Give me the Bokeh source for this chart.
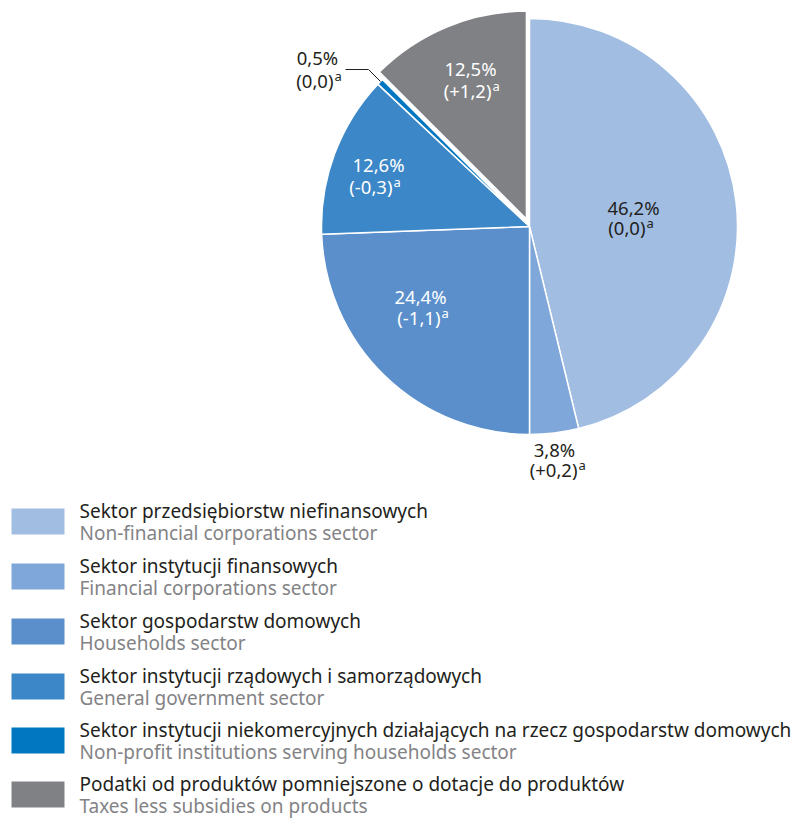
import math
from bokeh.plotting import figure
from bokeh.models import Range1d, ColumnDataSource
from bokeh.core.properties import value
from bokeh.embed import file_html
from bokeh.resources import INLINE

# ---- data ----
shares = [46.2, 3.8, 24.4, 12.6, 0.5, 12.5]
share_text = ["46,2%", "3,8%", "24,4%", "12,6%", "0,5%", "12,5%"]
change_text = ["(0,0)", "(+0,2)", "(-1,1)", "(-0,3)", "(0,0)", "(+1,2)"]
labels_pl = [
    "Sektor przedsiębiorstw niefinansowych",
    "Sektor instytucji finansowych",
    "Sektor gospodarstw domowych",
    "Sektor instytucji rządowych i samorządowych",
    "Sektor instytucji niekomercyjnych działających na rzecz gospodarstw domowych",
    "Podatki od produktów pomniejszone o dotacje do produktów",
]
labels_en = [
    "Non-financial corporations sector",
    "Financial corporations sector",
    "Households sector",
    "General government sector",
    "Non-profit institutions serving households sector",
    "Taxes less subsidies on products",
]
colors = ["#a1bde2", "#7fa7da", "#5a8fcc", "#3c87c7", "#0077c0", "#808184"]
exploded = [0, 0, 0, 0, 0, 1]

# ---- layout (screen px) ----
W, H = 793, 820
FONT = "Noto Sans"
DARK = "#231f20"
GREY_TXT = "#838386"
TXT_SHIFT = 8  # baseline correction


def Y(s):
    return H - s


def TY(s):
    return H - (s - TXT_SHIFT)


p = figure(width=W, height=H, output_backend="svg", toolbar_location=None,
           x_range=Range1d(0, W), y_range=Range1d(0, H),
           min_border=0)
p.axis.visible = False
p.grid.visible = False
p.outline_line_color = None
p.background_fill_color = "white"

cx, cy, R = 529, Y(226), 208
explode_dist = 8

xs, ys, starts, ends = [], [], [], []
cum = 0.0
for v, e in zip(shares, exploded):
    a1 = cum * 3.6
    a2 = (cum + v) * 3.6
    cum += v
    start = math.radians(90 - a2)
    end = math.radians(90 - a1)
    mid = (start + end) / 2
    d = explode_dist * e
    xs.append(cx + d * math.cos(mid))
    ys.append(cy + d * math.sin(mid))
    starts.append(start)
    ends.append(end)

src = ColumnDataSource(dict(x=xs, y=ys, s=starts, e=ends, c=colors))
p.wedge(x="x", y="y", radius=R, start_angle="s", end_angle="e",
        fill_color="c", line_color="white", line_width=1.5, source=src)

# ---- slice labels ----
# (line1 centre x, line1 baseline, line2 right edge of main text, line2 baseline, colour)
lab_pos = [
    (633, 215, 645, 235, DARK),
    (554, 457, 577, 477, DARK),
    (420, 304, 440, 325, "white"),
    (378, 172, 392, 194, "white"),
    (317, 65, 333, 88, DARK),
    (470, 76, 491, 98, "white"),
]
for i, (x1, b1, xr, b2, col) in enumerate(lab_pos):
    p.text(x=[x1], y=[TY(b1)], text=[share_text[i]], text_align="center",
           text_baseline="alphabetic", text_font=value(FONT),
           text_font_size="18.5px", text_color=col)
    p.text(x=[xr], y=[TY(b2)], text=[change_text[i]], text_align="right",
           text_baseline="alphabetic", text_font=value(FONT),
           text_font_size="18.5px", text_color=col)
    p.text(x=[xr + 1], y=[TY(b2 - 5)], text=["a"], text_align="left",
           text_baseline="alphabetic", text_font=value(FONT),
           text_font_size="13px", text_color=col)

# leader line for the small slice
p.line(x=[345, 368, 380], y=[Y(69), Y(69), Y(81)], line_color=DARK, line_width=1)

# ---- legend ----
row_tops = [508, 563, 618, 673, 727, 781]
for i, t in enumerate(row_tops):
    p.quad(left=[11], right=[64], top=[Y(t)], bottom=[Y(t + 26)],
           fill_color=colors[i], line_color=None)
    p.text(x=[79], y=[TY(t + 10)], text=[labels_pl[i]], text_align="left",
           text_baseline="alphabetic", text_font=value(FONT),
           text_font_size="19px", text_color=DARK)
    p.text(x=[79], y=[TY(t + 32)], text=[labels_en[i]], text_align="left",
           text_baseline="alphabetic", text_font=value(FONT),
           text_font_size="19px", text_color=GREY_TXT)

open("out.html", "w").write(file_html(p, INLINE))
